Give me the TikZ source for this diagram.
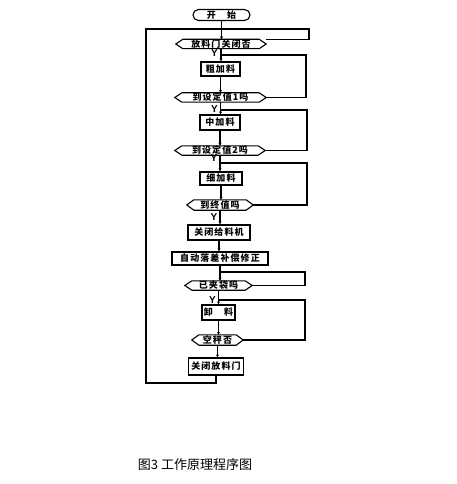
\documentclass[tikz,border=0pt]{standalone}
\usepackage{fontspec}
\newfontfamily\cjk[LetterSpace=12]{Noto Sans CJK SC}
\newfontfamily\cjkcap{Noto Sans CJK SC}
\newfontfamily\ysans{Liberation Sans}
\usetikzlibrary{arrows.meta}
\tikzset{
  flow/.style={line width=1.2pt},
  arr/.style={-{Stealth[length=3pt,width=3pt]}},
  box/.style={draw, line width=1.1pt, rectangle, inner sep=0pt, font=\fontsize{9}{9}\selectfont\cjk\bfseries},
  term/.style={box, rounded corners=5.5pt},
  dec/.style={rectangle, inner sep=0pt, font=\fontsize{9}{9}\selectfont\cjk\bfseries},
  hexline/.style={line width=1.1pt},
  ylab/.style={inner sep=0pt, anchor=east, font=\fontsize{10}{10}\selectfont\ysans\bfseries},
}
\begin{document}
\begin{tikzpicture}[x=1pt,y=-1pt]
\useasboundingbox (0,0) rectangle (456,484);
% nodes
\node[term, minimum width=57pt, minimum height=11pt] (start) at (221.5,15) {开　始};
\node[dec, minimum width=90pt, minimum height=9pt] (d1) at (221,44) {放料门关闭否};
\node[box, minimum width=39pt, minimum height=14pt] (b1) at (220.5,69) {粗加料};
\node[dec, minimum width=91pt, minimum height=9pt] (d2) at (220.5,97.5) {到设定值1吗};
\node[box, minimum width=40pt, minimum height=15pt] (b2) at (220,122.5) {中加料};
\node[dec, minimum width=90pt, minimum height=9pt] (d3) at (220,150.5) {到设定值2吗};
\node[box, minimum width=42pt, minimum height=13pt] (b3) at (221,178.5) {细加料};
\node[dec, minimum width=66pt, minimum height=10pt] (d4) at (220,205) {到终值吗};
\node[box, minimum width=62pt, minimum height=15pt] (b4) at (219,232.5) {关闭给料机};
\node[box, minimum width=96pt, minimum height=13pt] (b5) at (220,258.5) {自动落差补偿修正};
\node[dec, minimum width=67pt, minimum height=9pt] (d5) at (218.5,285.5) {已夹袋吗};
\node[box, minimum width=33pt, minimum height=15pt] (b6) at (218.5,312.5) {卸　料};
\node[dec, minimum width=51pt, minimum height=10pt] (d6) at (217.5,340) {空秤否};
\node[box, minimum width=55pt, minimum height=17pt] (b7) at (216,366.5) {关闭放料门};
% hexagons
\foreach \n in {d1,d2,d3,d4,d5,d6}
  \draw[hexline] (\n.west) -- ([xshift=7pt]\n.north west) -- ([xshift=-7pt]\n.north east) -- (\n.east) -- ([xshift=-7pt]\n.south east) -- ([xshift=7pt]\n.south west) -- cycle;
% Y labels
\node[ylab] (y1) at (218,53) {Y};
\node[ylab] (y2) at (218,109) {Y};
\node[ylab] (y3) at (217.5,158.5) {Y};
\node[ylab] (y4) at (217.5,217) {Y};
\node[ylab] (y5) at (216,300) {Y};
% main flow
\draw[flow,arr] (start.south) -- (start.south |- d1.north);
\draw[flow,arr] (d1.south) -- (d1.south |- b1.north);
\draw[flow,arr] (b1.south) -- (b1.south |- d2.north);
\draw[flow,arr] (d2.south) -- (d2.south |- b2.north);
\draw[flow,arr] (b2.south) -- (b2.south |- d3.north);
\draw[flow,arr] (d3.south) -- (d3.south |- b3.north);
\draw[flow,arr] (b3.south) -- (b3.south |- d4.north);
\draw[flow,arr] (d4.south) -- (d4.south |- b4.north);
\draw[flow,arr] (b4.south) -- (b4.south |- b5.north);
\draw[flow,arr] (b5.south) -- (b5.south |- d5.north);
\draw[flow,arr] (d5.south) -- (d5.south |- b6.north);
\draw[flow,arr] (b6.south) -- (b6.south |- d6.north);
\draw[flow,arr] (d6.south) -- (d6.south |- b7.north);
% return loop
\coordinate (top) at (221,29);
\coordinate (bl) at (146,383);
\draw[flow] (b7.south) -- (b7.south |- bl) -- (bl) |- (top);
% N branches
\coordinate (r1) at (309,29);
\draw[flow] (d1.north east) -- (d1.north east -| r1) -- (r1) -- (top);
\coordinate (r2) at (306,55);
\draw[flow] (d2.east) -| (r2) -- (r2 -| d1.south);
\coordinate (r3) at (307,110);
\draw[flow] (d3.east) -| (r3) -- (r3 -| d2.south);
\coordinate (r4) at (307,163);
\draw[flow] (d4.east) -| (r4) -- (r4 -| d3.south);
\coordinate (r5) at (305,272);
\draw[flow] (d5.east) -| (r5) -- (r5 -| b5.south);
\coordinate (r6) at (305,300);
\draw[flow] (d6.east) -| (r6) -- (r6 -| d5.south);
% caption
\node[inner sep=0pt, font=\fontsize{13}{13}\selectfont\cjkcap] (cap) at (195,465) {图3 工作原理程序图};
\end{tikzpicture}
\end{document}
